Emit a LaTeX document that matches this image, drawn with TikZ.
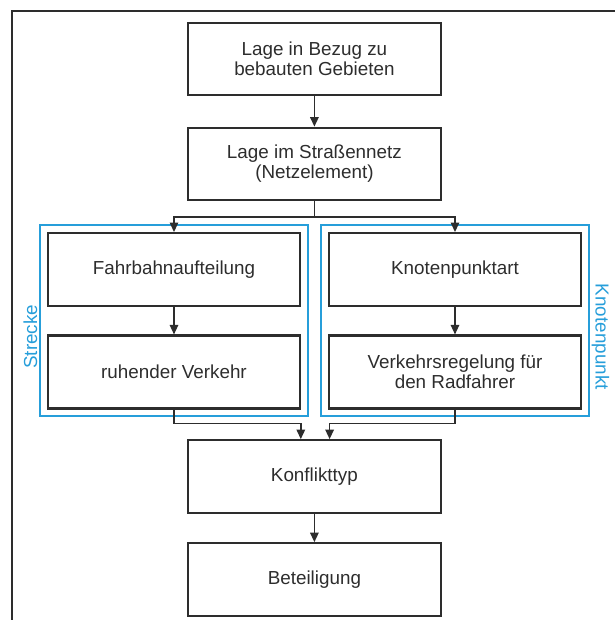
\documentclass[tikz,border=0pt]{standalone}
\usepackage{fontspec}
\setmainfont{Liberation Sans}
\usepackage{tikz}
\usetikzlibrary{calc}
\usetikzlibrary{arrows.meta}
\usetikzlibrary{positioning}
\usetikzlibrary{fit}

\definecolor{blau}{RGB}{38,158,218}
\definecolor{dunkel}{RGB}{45,45,45}

\begin{document}
\begin{tikzpicture}[
    kasten/.style={draw=dunkel, line width=1.6pt, minimum width=6.32cm, minimum height=1.81cm, align=center, text=dunkel, font=\fontsize{13.4}{14.2}\selectfont},
    seite/.style={kasten, minimum width=6.3cm, minimum height=1.82cm},
    pfeil/.style={draw=dunkel, line width=1.2pt, -{Triangle[length=6.8pt,width=6pt]}},
    bereich/.style={draw=blau, line width=1.5pt, inner sep=0.17cm},
    etikett/.style={text=blau, inner sep=1pt, font=\fontsize{13.4}{14.2}\selectfont}]
      \useasboundingbox (0,0) rectangle (15.375,15.5);
      \draw[line width=1pt, dunkel] (0.3,0) -- (0.3,15.225) -- (15.375,15.225);
      \node[kasten] (bezug) at (7.86,14.025) {Lage in Bezug zu\\bebauten Gebieten};
      \node[kasten] (netz) at (7.86,11.4) {Lage im Straßennetz\\(Netzelement)};
      % Strecke
      \node[seite] (fahrbahn) at (4.35,8.76) {Fahrbahnaufteilung};
      \node[seite] (ruhender) at (4.35,6.2) {ruhender Verkehr};
      % Knotenpunkt
      \node[seite] (knotenart) at (11.375,8.76) {Knotenpunktart};
      \node[seite] (regelung) at (11.375,6.2) {Verkehrsregelung für\\den Radfahrer};
      \node[kasten] (konflikt) at (7.86,3.5875) {Konflikttyp};
      \node[kasten] (beteiligung) at (7.86,1.0125) {Beteiligung};
      \node[bereich, fit=(fahrbahn)(ruhender)] (streckebox) {};
      \node[bereich, fit=(knotenart)(regelung)] (knotenbox) {};
      \node[etikett, rotate=90, anchor=south] (strecke) at ([yshift=-0.4cm]streckebox.west) {Strecke};
      \node[etikett, rotate=-90, anchor=south] (knoten) at ([yshift=-0.4cm]knotenbox.east) {Knotenpunkt};
      \draw[pfeil] (bezug) -- (netz);
      \draw[pfeil] (netz.south) -- ++(0,-0.39) -| (fahrbahn.north);
      \draw[pfeil] (netz.south) -- ++(0,-0.39) -| (knotenart.north);
      \draw[pfeil] (fahrbahn) -- (ruhender);
      \draw[pfeil] (knotenart) -- (regelung);
      \draw[pfeil] (ruhender.south) -- ++(0,-0.35) -| ([xshift=-0.34cm]konflikt.north);
      \draw[pfeil] (regelung.south) -- ++(0,-0.35) -| ([xshift=0.38cm]konflikt.north);
      \draw[pfeil] (konflikt) -- (beteiligung);
\end{tikzpicture}
\end{document}
